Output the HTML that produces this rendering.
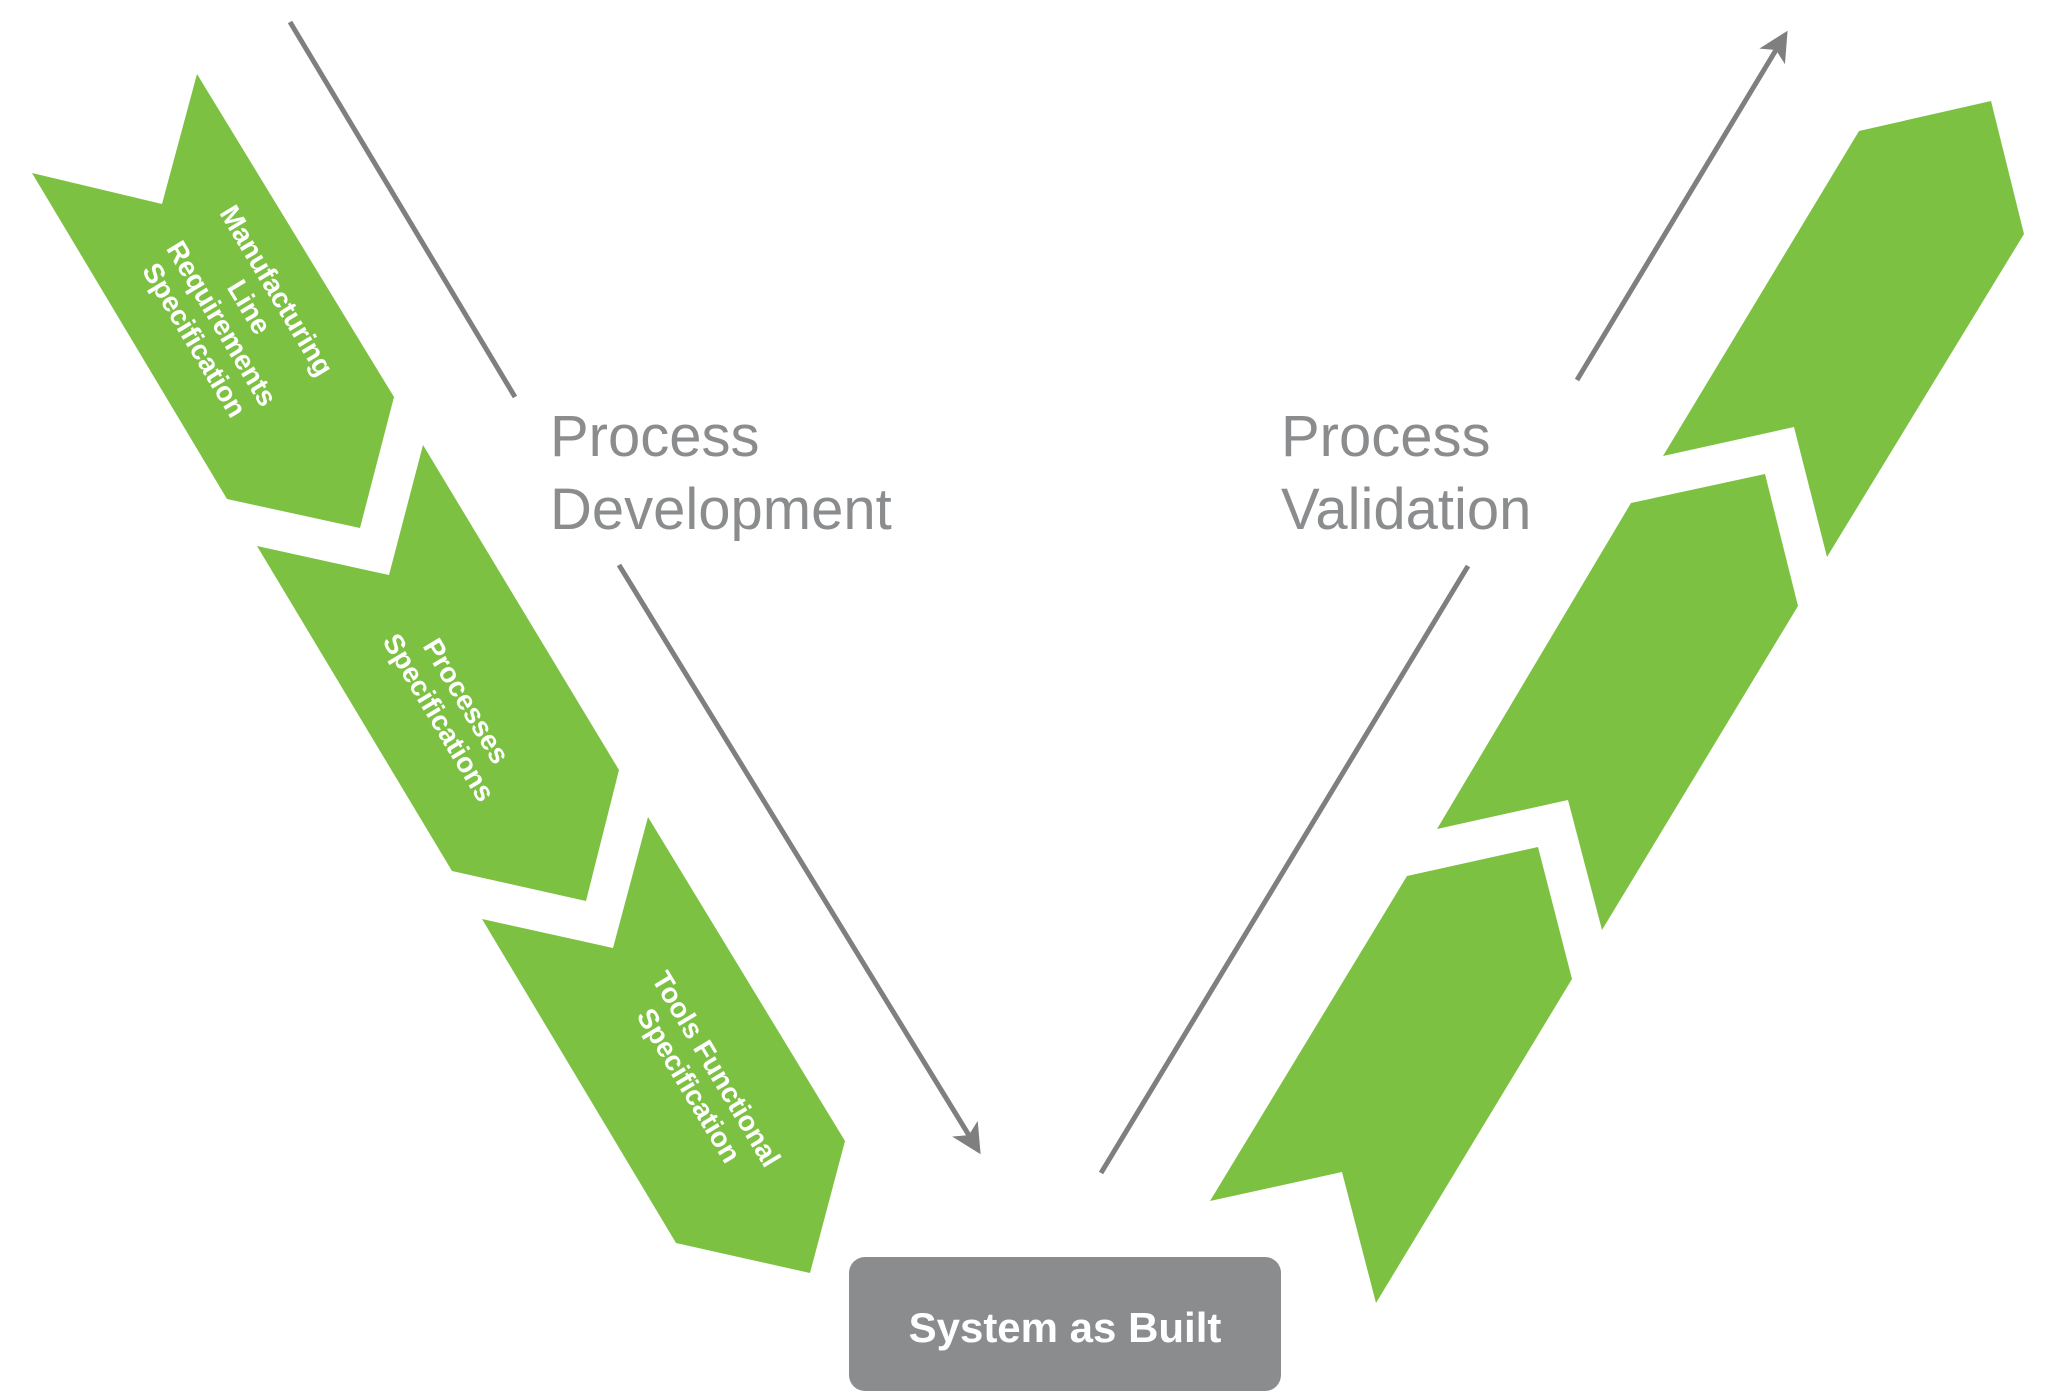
<!DOCTYPE html>
<html><head><meta charset="utf-8"><style>
html,body{margin:0;padding:0;background:#fff;}
svg{display:block;}
</style></head><body>
<svg width="2049" height="1392" viewBox="0 0 2049 1392" xmlns="http://www.w3.org/2000/svg">
<defs>
<marker id="ah" markerWidth="6" markerHeight="6" refX="5" refY="3" orient="auto" markerUnits="strokeWidth">
<path d="M0,0 L6,3 L0,6 L1.5,3 Z" fill="#7f7f7f"/>
</marker>
</defs>
<g fill="#7dc142">
<polygon points="32,173 162,204 197,74 394,397 360,528 227,499"/>
<polygon points="257,546 389,575 423,445 619,770 586,901 452,871"/>
<polygon points="482,919 613,948 648,817 845,1141 810,1273 676,1243"/>
<polygon points="1663,456 1794,427 1827,557 2024,234 1991,101 1859,131"/>
<polygon points="1437,829 1568,800 1602,930 1798,606 1765,474 1631,503"/>
<polygon points="1210,1201 1342,1172 1376,1303 1572,979 1538,847 1407,876"/>
</g>
<g stroke="#7f7f7f" stroke-width="5" fill="none">
<line x1="290" y1="22" x2="515" y2="397"/>
<line x1="619" y1="565" x2="978" y2="1150" marker-end="url(#ah)"/>
<line x1="1101" y1="1173" x2="1468" y2="566"/>
<line x1="1577" y1="380" x2="1785" y2="35" marker-end="url(#ah)"/>
</g>
<g font-family="Liberation Sans, sans-serif" font-size="58" fill="#8a8c8e">
<text x="550" y="456">Process</text>
<text x="550" y="529">Development</text>
<text x="1281" y="456">Process</text>
<text x="1281" y="529">Validation</text>
</g>
<rect x="849" y="1257" width="432" height="134" rx="16" fill="#8a8c8e"/>
<text x="1065" y="1342" text-anchor="middle" font-family="Liberation Sans, sans-serif" font-weight="bold" font-size="42" fill="#fff">System as Built</text>
<g font-family="Liberation Sans, sans-serif" font-weight="bold" font-size="28" fill="#fff" text-anchor="middle">
<g transform="translate(236,315) rotate(59)">
<text x="0" y="-38">Manufacturing</text>
<text x="0" y="-6">Line</text>
<text x="0" y="26">Requirements</text>
<text x="0" y="58">Specification</text>
</g>
<g transform="translate(453,709) rotate(59)">
<text x="0" y="-6">Processes</text>
<text x="0" y="26">Specifications</text>
</g>
<g transform="translate(703,1077) rotate(59)">
<text x="0" y="-6">Tools Functional</text>
<text x="0" y="26">Specification</text>
</g>
</g>
</svg>
</body></html>
